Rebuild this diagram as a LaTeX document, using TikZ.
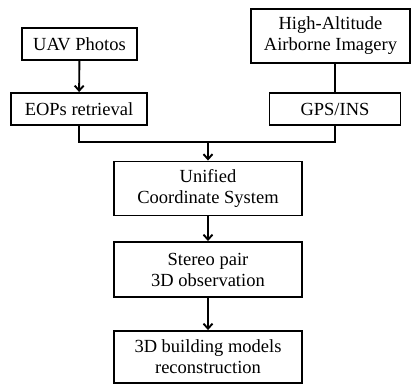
\documentclass[tikz,border=0pt]{standalone}
\usepackage{fontspec}
\setmainfont{Liberation Serif}
\usetikzlibrary{arrows.meta}
\begin{document}
\begin{tikzpicture}[x=1pt,y=-1pt,
  box/.style={draw,line width=1.9pt,rectangle,inner sep=0pt,align=center,
    font=\fontsize{18.5}{21}\selectfont},
  conn/.style={line width=1.9pt},
  arr/.style={conn,-{Straight Barb[length=5pt,width=9pt]}}]
\useasboundingbox (0,0) rectangle (412,385);
\node[box,minimum width=115pt,minimum height=32pt] (uav) at (79.5,44) {UAV Photos};
\node[box,minimum width=136pt,minimum height=32pt] (eops) at (79,109) {EOPs retrieval};
\node[box,minimum width=159pt,minimum height=54pt] (ha) at (330.5,36) {High-Altitude\\Airborne Imagery};
\node[box,minimum width=131pt,minimum height=32pt] (gps) at (335,109) {GPS/INS};
\node[box,minimum width=188pt,minimum height=54pt] (uni) at (208,188.5) {Unified\\Coordinate System};
\node[box,minimum width=188pt,minimum height=55pt] (ste) at (208,269.5) {Stereo pair\\3D observation};
\node[box,minimum width=188pt,minimum height=52pt] (bld) at (208,357) {3D building models\\reconstruction};
\coordinate (j) at (208,142);
\draw[arr] (uav) -- (eops);
\draw[conn] (ha.south -| gps.north) -- (gps.north);
\draw[conn] (eops.south) |- (j) -| (gps.south);
\draw[arr] (j) -- (uni.north);
\draw[arr] (uni) -- (ste);
\draw[arr] (ste) -- (bld);
\end{tikzpicture}
\end{document}
